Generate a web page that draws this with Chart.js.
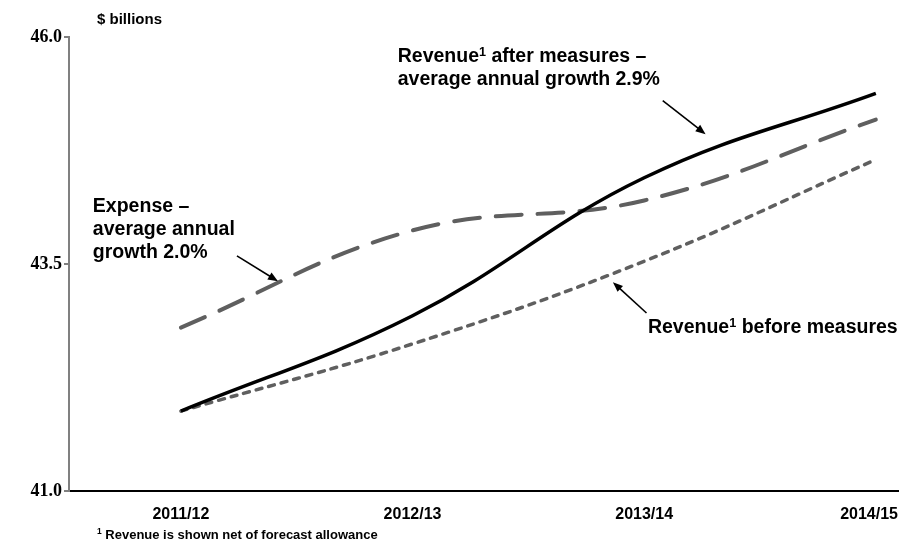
<!DOCTYPE html>
<html>
<head>
<meta charset="utf-8">
<script src="https://cdn.jsdelivr.net/npm/chart.js@4.4.0/dist/chart.umd.min.js"></script>
<style>
  html, body { margin: 0; padding: 0; background: #fff; }
</style>
</head>
<body>
<canvas id="budgetChart" width="899" height="546"></canvas>
<script>
// Fiscal years and the three forecast series ($ billions)
const years = ['2011/12', '2012/13', '2013/14', '2014/15'];
const revenueAfter = [41.88, 42.93, 44.45, 45.38];
const expense = [42.80, 43.87, 44.20, 45.09];
const revenueBefore = [41.88, 42.62, 43.53, 44.65];
const yTicks = [41.0, 43.5, 46.0];

const SANS = '"Liberation Sans", Arial, sans-serif';
const SERIF = '"Liberation Serif", "Times New Roman", serif';
const GREY = '#5f5f5f';

const toPoints = arr => arr.map((v, i) => ({ x: i, y: v }));

// Callout labels, placed in data units (x = year index, y = $bn).
// A line is a list of [text, isSuperscript] runs.
const callouts = [
  { lines: [[['Revenue'], ['1', true], [' after measures –']], [['average annual growth 2.9%']]],
    x: 0.936, y: 45.78, arrow: [2.08, 45.30, 2.265, 44.93] },
  { lines: [[['Expense –']], [['average annual']], [['growth 2.0%']]],
    x: -0.38, y: 44.13, arrow: [0.242, 43.59, 0.419, 43.31] },
  { lines: [[['Revenue'], ['1', true], [' before measures']]],
    x: 2.016, y: 42.80, arrow: [2.01, 42.96, 1.865, 43.30] }
];
const CALLOUT_SIZE = 19.5;
const CALLOUT_GAP = 23;

function drawRuns(ctx, runs, x, y, size) {
  runs.forEach(([t, sup]) => {
    const s = sup ? size * 0.65 : size;
    ctx.font = `bold ${s}px ${SANS}`;
    ctx.fillText(t, x, sup ? y - size * 0.22 : y);
    x += ctx.measureText(t).width;
  });
}

function drawArrow(ctx, x1, y1, x2, y2) {
  const a = Math.atan2(y2 - y1, x2 - x1);
  const len = 10, half = 4;
  ctx.beginPath();
  ctx.moveTo(x1, y1);
  ctx.lineTo(x2 - len * 0.8 * Math.cos(a), y2 - len * 0.8 * Math.sin(a));
  ctx.stroke();
  ctx.beginPath();
  ctx.moveTo(x2, y2);
  ctx.lineTo(x2 - len * Math.cos(a) + half * Math.sin(a), y2 - len * Math.sin(a) - half * Math.cos(a));
  ctx.lineTo(x2 - len * Math.cos(a) - half * Math.sin(a), y2 - len * Math.sin(a) + half * Math.cos(a));
  ctx.closePath();
  ctx.fill();
}

const textPlugin = {
  id: 'chartText',
  // keep the last category label inside the canvas
  beforeDraw(chart) {
    const scale = chart.scales.x;
    const items = scale.getLabelItems();
    const last = items[items.length - 1];
    if (!last) return;
    const ctx = chart.ctx;
    ctx.save();
    ctx.font = last.font.string;
    const w = ctx.measureText(last.label).width;
    ctx.restore();
    const maxX = chart.width - w / 2 - 1;
    last.options.translation[0] = Math.min(last.options.translation[0], maxX);
  },
  afterDraw(chart) {
    const { ctx, chartArea, scales: { x, y } } = chart;
    ctx.save();
    ctx.fillStyle = '#000';
    ctx.strokeStyle = '#000';
    ctx.lineWidth = 1.6;
    ctx.textBaseline = 'middle';
    ctx.textAlign = 'left';

    // unit label above the value axis
    ctx.font = 'bold 15px ' + SANS;
    ctx.fillText('$ billions', chartArea.left + 28, 20);

    // footnote
    drawRuns(ctx, [['1', true], [' Revenue is shown net of forecast allowance']], chartArea.left + 28, 535, 13);

    callouts.forEach(c => {
      const px = x.getPixelForValue(c.x);
      const py = y.getPixelForValue(c.y);
      c.lines.forEach((runs, i) => drawRuns(ctx, runs, px, py + i * CALLOUT_GAP, CALLOUT_SIZE));
      const [ax1, ay1, ax2, ay2] = c.arrow;
      drawArrow(ctx, x.getPixelForValue(ax1), y.getPixelForValue(ay1),
                x.getPixelForValue(ax2), y.getPixelForValue(ay2));
    });
    ctx.restore();
  }
};

new Chart(document.getElementById('budgetChart').getContext('2d'), {
  type: 'line',
  data: {
    datasets: [
      {
        label: 'Revenue after measures',
        data: toPoints(revenueAfter),
        borderColor: '#000',
        borderWidth: 3.5,
        tension: 0.4,
        pointRadius: 0
      },
      {
        label: 'Expense',
        data: toPoints(expense),
        borderColor: GREY,
        borderWidth: 4,
        borderDash: [26, 16],
        borderCapStyle: 'round',
        tension: 0.4,
        pointRadius: 0
      },
      {
        label: 'Revenue before measures',
        data: toPoints(revenueBefore),
        borderColor: GREY,
        borderWidth: 3.5,
        borderDash: [6, 7],
        borderCapStyle: 'round',
        tension: 0.4,
        pointRadius: 0
      }
    ]
  },
  options: {
    responsive: false,
    animation: false,
    layout: { padding: { top: 37, right: 0, bottom: 0, left: 0 } },
    plugins: {
      legend: { display: false },
      tooltip: { enabled: false }
    },
    scales: {
      x: {
        type: 'linear',
        min: -0.483,
        max: 3.1,
        afterBuildTicks: s => { s.ticks = years.map((_, i) => ({ value: i })); },
        afterFit: s => { s.height = 55; s.paddingLeft = 0; s.paddingRight = 0; },
        ticks: {
          callback: v => years[v],
          color: '#000',
          font: { family: SANS, size: 16, weight: 'bold' },
          padding: 14,
          maxRotation: 0,
          autoSkip: false
        },
        grid: { display: false, drawTicks: false },
        border: { color: '#000', width: 2 }
      },
      y: {
        min: 41,
        max: 46,
        afterBuildTicks: s => { s.ticks = yTicks.map(v => ({ value: v })); },
        afterFit: s => { s.width = 69; },
        ticks: {
          callback: v => v.toFixed(1),
          color: '#000',
          font: { family: SERIF, size: 18, weight: 'bold' },
          padding: 2
        },
        grid: { drawOnChartArea: false, tickLength: 5, color: '#808080', lineWidth: 2 },
        border: { color: '#808080', width: 2 }
      }
    }
  },
  plugins: [textPlugin]
});
</script>
</body>
</html>
